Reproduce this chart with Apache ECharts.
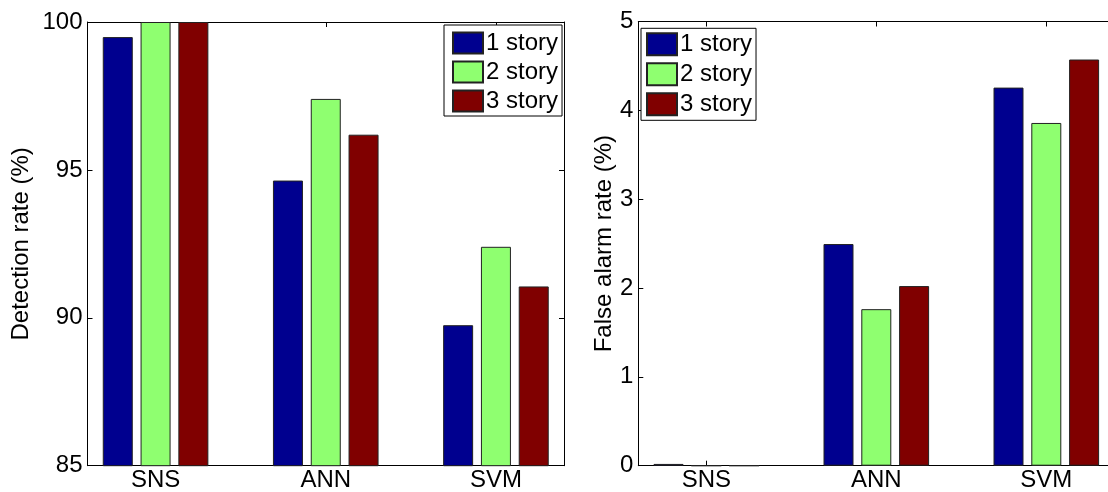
<!DOCTYPE html>
<html>
<head>
<meta charset="utf-8">
<script src="https://cdn.jsdelivr.net/npm/echarts@6/dist/echarts.min.js"></script>
<style>html,body{margin:0;padding:0;background:#fff;}#c{width:1108px;height:492px;}</style>
</head>
<body>
<div id="c"></div>
<script>
const categories = ['SNS', 'ANN', 'SVM'];
const seriesNames = ['1 story', '2 story', '3 story'];
const detection1 = [99.49, 94.64, 89.75];
const detection2 = [100, 97.40, 92.40];
const detection3 = [100, 96.19, 91.06];
const falseAlarm1 = [0.02, 2.495, 4.256];
const falseAlarm2 = [0, 1.762, 3.858];
const falseAlarm3 = [0, 2.022, 4.572];
const detTicks = [85, 90, 95, 100];
const faTicks = [0, 1, 2, 3, 4, 5];

const colors = ['#00008F', '#8FFF70', '#800000'];
const FONT = 'Liberation Sans, Arial, Helvetica, sans-serif';
const FS = 24;

function pts(arr) { return arr.map((v, i) => [i + 1, v]); }
function catLabel(v) {
  const i = Math.round(v) - 1;
  return (Math.abs(v - Math.round(v)) < 1e-6 && categories[i]) ? categories[i] : '';
}

function xAxes(gridIndex) {
  const base = {
    type: 'value', gridIndex, min: 0.6, max: 3.4, minInterval: 1, maxInterval: 1, splitNumber: 3,
    axisLine: { show: true, onZero: false, lineStyle: { color: '#000', width: 1 } },
    axisTick: { show: true, inside: true, length: 5, lineStyle: { color: '#000' } },
    splitLine: { show: false }
  };
  return [
    Object.assign({}, base, { position: 'bottom',
      axisLabel: { show: true, color: '#000', fontSize: FS, fontFamily: FONT, margin: 3, formatter: catLabel,
        showMinLabel: false, showMaxLabel: false } }),
    Object.assign({}, base, { position: 'top', axisLabel: { show: false } })
  ];
}
function yAxes(gridIndex, min, max, interval, name, gap) {
  const base = {
    type: 'value', gridIndex, min, max, interval,
    axisLine: { show: true, onZero: false, lineStyle: { color: '#000', width: 1 } },
    axisTick: { show: true, inside: true, length: 5, lineStyle: { color: '#000' } },
    splitLine: { show: false }
  };
  return [
    Object.assign({}, base, { position: 'left', name, nameLocation: 'middle', nameGap: gap,
      nameTextStyle: { color: '#000', fontSize: FS, fontFamily: FONT },
      axisLabel: { show: true, color: '#000', fontSize: FS, fontFamily: FONT, margin: 5 } }),
    Object.assign({}, base, { position: 'right', axisLabel: { show: false } })
  ];
}

function barSeries(name, data, xi, yi, ci) {
  return {
    type: 'bar', name, data: pts(data), xAxisIndex: xi, yAxisIndex: yi,
    barWidth: 30, barGap: '26%',
    itemStyle: { color: colors[ci], borderColor: '#222', borderWidth: 1 },
    emphasis: { disabled: true }
  };
}

const legendBase = {
  orient: 'vertical', data: seriesNames, icon: 'rect',
  itemWidth: 30, itemHeight: 21, borderColor: '#000', borderWidth: 1,
  backgroundColor: '#fff', selectedMode: false,
  textStyle: { color: '#000', fontSize: FS, fontFamily: FONT, padding: [0, 0, 0, -2] }
};

const option = {
  animation: false,
  backgroundColor: '#fff',
  grid: [
    { left: 87.5, top: 22, right: 544, bottom: 26.3, outerBoundsMode: 'none', containLabel: false },
    { left: 638.3, top: 21.5, right: -6.3, bottom: 26.3, outerBoundsMode: 'none', containLabel: false }
  ],
  xAxis: xAxes(0).concat(xAxes(1)),
  yAxis: yAxes(0, detTicks[0], detTicks[detTicks.length - 1], 5, 'Detection rate (%)', 54)
    .concat(yAxes(1, faTicks[0], faTicks[faTicks.length - 1], 1, 'False alarm rate (%)', 22)),
  legend: [
    Object.assign({}, legendBase, { left: 444, top: 25, padding: [6, 4, 3, 8], itemGap: 5 }),
    Object.assign({}, legendBase, { left: 641, top: 28.3, padding: [4, 4, 4, 5], itemGap: 6, itemHeight: 22 })
  ],
  series: [
    barSeries(seriesNames[0], detection1, 0, 0, 0),
    barSeries(seriesNames[1], detection2, 0, 0, 1),
    barSeries(seriesNames[2], detection3, 0, 0, 2),
    barSeries(seriesNames[0], falseAlarm1, 2, 2, 0),
    barSeries(seriesNames[1], falseAlarm2, 2, 2, 1),
    barSeries(seriesNames[2], falseAlarm3, 2, 2, 2)
  ]
};

const chart = echarts.init(document.getElementById('c'), null, { renderer: 'canvas' });
chart.setOption(option);
</script>
</body>
</html>
